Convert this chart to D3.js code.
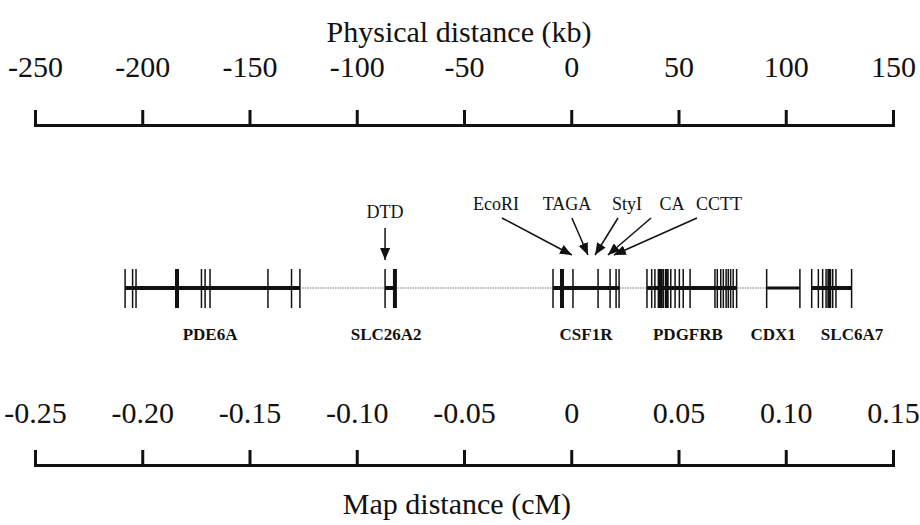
<!DOCTYPE html>
<html>
<head>
<meta charset="utf-8">
<script src="https://cdn.jsdelivr.net/npm/d3@7"></script>
<style>
  body { margin: 0; background: #fff; }
  svg { display: block; }
  text { font-family: "Liberation Serif", "DejaVu Serif", serif; fill: #111; }
  .axis path, .axis line { stroke: #111; stroke-width: 3; }
  .axis text { font-size: 30px; }
</style>
</head>
<body>
<div class="wrapper"></div>
<script>
var width = 920, height = 525;

// top axis: physical distance in kb
var kbTicks = [-250, -200, -150, -100, -50, 0, 50, 100, 150];
var kbTickLabels = ["-250", "-200", "-150", "-100", "-50", "0", "50", "100", "150"];
// bottom axis: map distance in cM
var cmTicks = [-0.25, -0.20, -0.15, -0.10, -0.05, 0, 0.05, 0.10, 0.15];
var cmTickLabels = ["-0.25", "-0.20", "-0.15", "-0.10", "-0.05", "0", "0.05", "0.10", "0.15"];

// genes, label positions and exon positions (kb)
var genes = ["PDE6A", "SLC26A2", "CSF1R", "PDGFRB", "CDX1", "SLC6A7"];
var geneLabelKb = [-168.4, -86.3, 6.9, 54.4, 94.1, 130.9];
var exonKb = [
  [-208.0, -204.5, -202.9, -183.8, -172.4, -170.7, -168.4, -141.4, -130.4, -126.5],
  [-86.8, -82.2],
  [-8.5, -4.3, 0.8, 12.5, 18.1, 20.9, 22.3],
  [35.3, 37.5, 39.0, 40.6, 41.7, 42.9, 44.5, 46.4, 48.4, 50.4, 52.2, 55.4,
   67.0, 68.1, 69.7, 70.9, 72.2, 73.2, 74.3, 75.5, 77.1],
  [91.1, 106.6],
  [112.1, 115.2, 117.2, 118.8, 120.3, 121.9, 123.4, 130.7]
];
var wideExonKb = [[-183.8], [-82.2], [-4.3], [41.7, 44.5], [], [120.3]];
var intergenicKb = [-126.5, 91.1];

// polymorphic markers: label, label position, arrow start and tip (kb)
var markers = ["DTD", "EcoRI", "TAGA", "StyI", "CA", "CCTT"];
var markerLabelKb = [-86.8, -35.1, -2.0, 26.0, 47.0, 68.9];
var markerFromKb = [-86.8, -32.3, 0.3, 21.8, 37.2, 58.6];
var markerToKb = [-86.8, 0.3, 7.8, 11.1, 17.1, 19.9];

var svg = d3.select(".wrapper").append("svg")
  .attr("width", width)
  .attr("height", height);

var xKb = d3.scaleLinear().domain([-250, 150]).range([35, 893]);
var xCm = d3.scaleLinear().domain([-0.25, 0.15]).range([35, 893]);

var topY = 125, bottomY = 465, trackY = 288;

// Top axis
svg.append("g")
  .attr("class", "axis")
  .attr("transform", "translate(0," + topY + ")")
  .call(d3.axisTop(xKb)
    .tickValues(kbTicks)
    .tickFormat(function(d, i) { return kbTickLabels[i]; })
    .tickSize(15)
    .tickSizeOuter(15)
    .tickPadding(33));

svg.append("text")
  .attr("x", 459).attr("y", 42)
  .attr("text-anchor", "middle")
  .style("font-size", "30px")
  .text("Physical distance (kb)");

// Bottom axis (ticks point up as well)
svg.append("g")
  .attr("class", "axis")
  .attr("transform", "translate(0," + bottomY + ")")
  .call(d3.axisTop(xCm)
    .tickValues(cmTicks)
    .tickFormat(function(d, i) { return cmTickLabels[i]; })
    .tickSize(15)
    .tickSizeOuter(15)
    .tickPadding(27));

svg.append("text")
  .attr("x", 457).attr("y", 514)
  .attr("text-anchor", "middle")
  .style("font-size", "30px")
  .text("Map distance (cM)");

svg.selectAll(".axis").attr("font-family", null).attr("font-size", null);

// Gene track
var track = svg.append("g").classed("track", true);

track.append("line")
  .attr("x1", xKb(intergenicKb[0])).attr("x2", xKb(intergenicKb[1]))
  .attr("y1", trackY).attr("y2", trackY)
  .attr("stroke", "#777")
  .attr("stroke-width", 1.2)
  .attr("stroke-dasharray", "1.5,1");

genes.forEach(function(gene, i) {
  var ex = exonKb[i];
  var geneG = track.append("g").classed("gene", true);
  geneG.append("line")
    .attr("x1", xKb(d3.min(ex))).attr("x2", xKb(d3.max(ex)))
    .attr("y1", trackY).attr("y2", trackY)
    .attr("stroke", "#111")
    .attr("stroke-width", gene === "CDX1" ? 3 : 4);
  geneG.selectAll(".exon").data(ex).enter()
    .append("line")
    .attr("class", "exon")
    .attr("x1", function(d) { return xKb(d); })
    .attr("x2", function(d) { return xKb(d); })
    .attr("y1", trackY - 19).attr("y2", trackY + 20)
    .attr("stroke", "#111")
    .attr("stroke-width", function(d) { return wideExonKb[i].indexOf(d) >= 0 ? 4 : 1.5; });
  geneG.append("text")
    .attr("x", xKb(geneLabelKb[i]))
    .attr("y", 340)
    .attr("text-anchor", "middle")
    .style("font-size", "17px")
    .style("font-weight", "bold")
    .text(gene);
});

// Arrowhead
svg.append("defs").append("marker")
  .attr("id", "arrow")
  .attr("viewBox", "0 0 12 10")
  .attr("refX", 12).attr("refY", 5)
  .attr("markerWidth", 12).attr("markerHeight", 10)
  .attr("markerUnits", "userSpaceOnUse")
  .attr("orient", "auto")
  .append("path")
  .attr("d", "M0,0L12,5L0,10Z")
  .attr("fill", "#111");

markers.forEach(function(m, i) {
  var vertical = markerFromKb[i] === markerToKb[i];
  var labelY = vertical ? 218 : 210;
  svg.append("text")
    .attr("x", xKb(markerLabelKb[i]))
    .attr("y", labelY)
    .attr("text-anchor", "middle")
    .style("font-size", "18px")
    .text(m);
  svg.append("line")
    .attr("x1", xKb(markerFromKb[i])).attr("y1", vertical ? 228 : 218)
    .attr("x2", xKb(markerToKb[i])).attr("y2", vertical ? 260 : 255)
    .attr("stroke", "#111")
    .attr("stroke-width", 1.5)
    .attr("marker-end", "url(#arrow)");
});
</script>
</body>
</html>
